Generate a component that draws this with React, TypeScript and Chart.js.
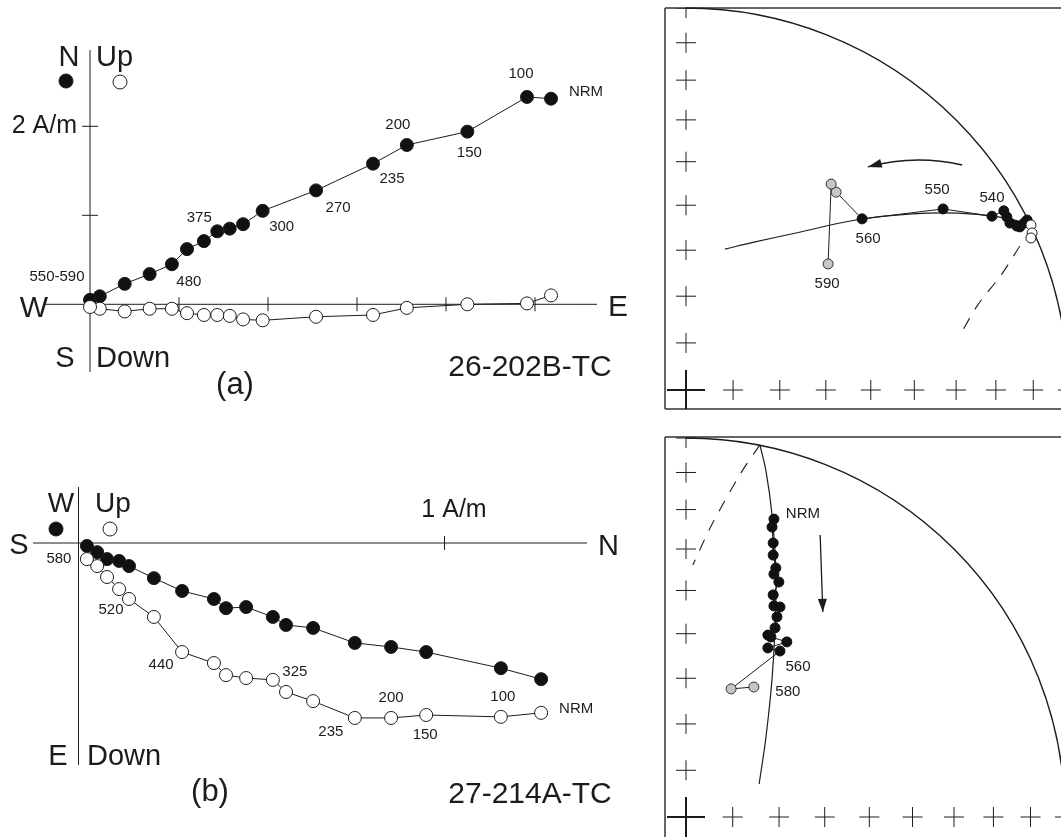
import React, { useEffect, useRef } from 'react';
import { Chart, registerables } from 'chart.js';

Chart.register(...registerables);

const FONT = '"Liberation Sans", Arial, Helvetica, sans-serif';
const INK = '#1c1c1c';

// ===== (a) 26-202B-TC : orthogonal demagnetization diagram (A/m), NRM first =====
const aEast = [5.18, 4.91, 4.24, 3.56, 3.18, 2.54, 1.94, 1.72, 1.57, 1.43, 1.28, 1.09, 0.92, 0.67, 0.39, 0.11, 0.0];
const aNorth = [2.31, 2.33, 1.94, 1.79, 1.58, 1.28, 1.05, 0.9, 0.85, 0.82, 0.71, 0.62, 0.45, 0.34, 0.23, 0.09, 0.05];
const aUp = [0.1, 0.01, 0.0, -0.04, -0.12, -0.14, -0.18, -0.17, -0.13, -0.12, -0.12, -0.1, -0.05, -0.05, -0.08, -0.05, -0.03];
const aTicksEast = [1, 2, 3, 4, 5];
const aTicksNorth = [1, 2];
const aStepLabels = ['NRM', '100', '150', '200', '235', '270', '300', '', '', '375', '', '', '480', '', '', '', '550-590'];

// ===== (b) 27-214A-TC : orthogonal demagnetization diagram (A/m), NRM first =====
const bNorth = [1.264, 1.154, 0.95, 0.854, 0.755, 0.641, 0.567, 0.531, 0.458, 0.403, 0.37, 0.283, 0.206, 0.138, 0.111, 0.078, 0.051, 0.023];
const bWest = [-0.372, -0.342, -0.298, -0.284, -0.273, -0.232, -0.224, -0.202, -0.175, -0.178, -0.153, -0.131, -0.096, -0.063, -0.049, -0.044, -0.025, -0.008];
const bUp = [-0.464, -0.475, -0.47, -0.478, -0.478, -0.432, -0.407, -0.374, -0.369, -0.361, -0.328, -0.298, -0.202, -0.153, -0.126, -0.093, -0.063, -0.044];
const bTicksNorth = [1];
const bTicksWest: number[] = [];
const bStepLabels = ['NRM', '100', '150', '200', '235', '', '', '325', '', '', '', '440', '', '520', '', '', '', '580'];

// ===== equal-area net, (a) 26-202B-TC (units of net radius, east / north) =====
const sAUpperE = [0.903, 0.906, 0.903];
const sAUpperN = [0.432, 0.411, 0.398];
const sALowerE = [0.893, 0.885, 0.874, 0.866, 0.848, 0.84, 0.832, 0.801, 0.673, 0.461];
const sALowerN = [0.445, 0.437, 0.427, 0.429, 0.437, 0.453, 0.469, 0.455, 0.474, 0.448];
const sALowerLabels = ['', '', '', '', '', '', '', '540', '550', '560'];
const sAGreyE = [0.393, 0.38, 0.372];
const sAGreyN = [0.518, 0.539, 0.33];
const sAGreyLabels = ['', '', '590'];
const sAGcE = [0.102, 0.178, 0.288, 0.445, 0.592, 0.712, 0.817, 0.901];
const sAGcN = [0.369, 0.387, 0.411, 0.445, 0.461, 0.463, 0.453, 0.435];
const sAGcUpE = [0.874, 0.825, 0.764, 0.723];
const sAGcUpN = [0.377, 0.301, 0.223, 0.154];

// ===== equal-area net, (b) 27-214A-TC =====
const sBUpperE: number[] = [];
const sBUpperN: number[] = [];
const sBLowerE = [0.232, 0.227, 0.23, 0.23, 0.237, 0.232, 0.245, 0.23, 0.232, 0.248, 0.24, 0.235, 0.216, 0.224, 0.266, 0.216, 0.248];
const sBLowerN = [0.786, 0.765, 0.723, 0.691, 0.657, 0.641, 0.62, 0.586, 0.557, 0.554, 0.528, 0.499, 0.48, 0.475, 0.462, 0.446, 0.438];
const sBLowerLabels = ['NRM', '', '', '', '', '', '', '', '', '', '', '', '', '', '', '', '560'];
const sBGreyE = [0.119, 0.179];
const sBGreyN = [0.338, 0.343];
const sBGreyLabels = ['', '580'];
const sBGcE = [0.195, 0.211, 0.227, 0.237, 0.235, 0.227, 0.211, 0.193];
const sBGcN = [0.982, 0.913, 0.797, 0.652, 0.504, 0.364, 0.211, 0.087];
const sBGcUpE = [0.195, 0.145, 0.069, 0.018];
const sBGcUpN = [0.982, 0.908, 0.773, 0.665];

// net graticule: inclination ticks every 10 degrees
const netInclinations = [80, 70, 60, 50, 40, 30, 20, 10, 0];

// ---------------- layout ----------------
type Box = { left: number; top: number; w: number; h: number };
type Txt = { t: string; x: number; y: number; size: number; align?: CanvasTextAlign };

const aLabelOffsets: Record<number, [number, number]> = {
  0: [35, -7], 1: [-6, -23], 2: [2, 21], 3: [-9, -20], 4: [19, 15], 5: [22, 17], 6: [19, 16], 9: [-18, -13], 12: [17, 18], 16: [-33, -23],
};
const bLabelOffsets: Record<number, [number, number]> = {
  0: [35, -4], 1: [2, -20], 2: [-1, 20], 3: [0, -20], 4: [-24, 14], 7: [22, -8], 11: [-21, 13], 13: [-18, 11], 17: [-28, 0],
};
const sALowerOffsets: Record<number, [number, number]> = { 7: [0, -18], 8: [-6, -19], 9: [6, 20] };
const sAGreyOffsets: Record<number, [number, number]> = { 2: [-1, 20] };
const sBLowerOffsets: Record<number, [number, number]> = { 0: [29, -5], 16: [18, 16] };
const sBGreyOffsets: Record<number, [number, number]> = { 1: [34, 5] };

function scalesFor(box: Box, ox: number, oy: number, unit: number) {
  return {
    x: { type: 'linear', display: false, min: (box.left - ox) / unit, max: (box.left + box.w - ox) / unit },
    y: { type: 'linear', display: false, min: (oy - box.top - box.h) / unit, max: (oy - box.top) / unit },
  };
}

function baseOptions(scales: any) {
  return {
    animation: false,
    responsive: false,
    devicePixelRatio: 1,
    events: [],
    layout: { padding: 0, autoPadding: false },
    plugins: { legend: { display: false }, tooltip: { enabled: false }, title: { display: false } },
    scales,
  };
}

function drawText(ctx: CanvasRenderingContext2D, t: string, x: number, y: number, size: number, align: CanvasTextAlign = 'center', baseline: CanvasTextBaseline = 'alphabetic') {
  ctx.font = `${size}px ${FONT}`;
  ctx.fillStyle = INK;
  ctx.textAlign = align;
  ctx.textBaseline = baseline;
  ctx.fillText(t, x, y);
}

function seg(ctx: CanvasRenderingContext2D, x0: number, y0: number, x1: number, y1: number) {
  ctx.beginPath();
  ctx.moveTo(x0, y0);
  ctx.lineTo(x1, y1);
  ctx.stroke();
}

// ---------------- Zijderveld panel ----------------
type ZijSpec = {
  box: Box; ox: number; oy: number; unit: number;
  horiz: number[]; vFilled: number[]; vOpen: number[];
  hTicks: number[]; vTicks: number[];
  hAxis: [number, number]; vAxis: [number, number];
  texts: Txt[]; legFilled: [number, number]; legOpen: [number, number];
  steps: string[]; stepOn: 'filled' | 'open'; offsets: Record<number, [number, number]>;
};

function zijConfig(s: ZijSpec) {
  const filled = s.horiz.map((h, i) => ({ x: h, y: s.vFilled[i] }));
  const open = s.horiz.map((h, i) => ({ x: h, y: s.vOpen[i] }));
  const plugin = {
    id: 'zij',
    beforeDatasetsDraw(chart: any) {
      const ctx: CanvasRenderingContext2D = chart.ctx;
      const xs = chart.scales.x, ys = chart.scales.y;
      const px = xs.getPixelForValue(0), py = ys.getPixelForValue(0);
      ctx.save();
      ctx.strokeStyle = INK;
      ctx.lineWidth = 1;
      seg(ctx, s.hAxis[0] - s.box.left, py, s.hAxis[1] - s.box.left, py);
      seg(ctx, px, s.vAxis[0] - s.box.top, px, s.vAxis[1] - s.box.top);
      s.hTicks.forEach((v) => { const x = xs.getPixelForValue(v); seg(ctx, x, py - 7, x, py + 7); });
      s.vTicks.forEach((v) => { const y = ys.getPixelForValue(v); seg(ctx, px - 8, y, px + 8, y); });
      ctx.restore();
    },
    afterDatasetsDraw(chart: any) {
      const ctx: CanvasRenderingContext2D = chart.ctx;
      const xs = chart.scales.x, ys = chart.scales.y;
      ctx.save();
      s.texts.forEach((t) => drawText(ctx, t.t, t.x - s.box.left, t.y - s.box.top, t.size, t.align || 'center'));
      // legend keys
      ctx.lineWidth = 1;
      ctx.strokeStyle = INK;
      ctx.beginPath(); ctx.arc(s.legFilled[0] - s.box.left, s.legFilled[1] - s.box.top, 7, 0, Math.PI * 2);
      ctx.fillStyle = '#111'; ctx.fill(); ctx.stroke();
      ctx.beginPath(); ctx.arc(s.legOpen[0] - s.box.left, s.legOpen[1] - s.box.top, 7, 0, Math.PI * 2);
      ctx.fillStyle = '#fff'; ctx.fill(); ctx.stroke();
      // step labels
      const vv = s.stepOn === 'filled' ? s.vFilled : s.vOpen;
      s.steps.forEach((t, i) => {
        if (!t) return;
        const off = s.offsets[i] || [0, 0];
        drawText(ctx, t, xs.getPixelForValue(s.horiz[i]) + off[0], ys.getPixelForValue(vv[i]) + off[1], 15, 'center', 'middle');
      });
      ctx.restore();
    },
  };
  const common = { showLine: true, borderColor: INK, borderWidth: 1, pointRadius: 6.5, pointBorderColor: INK, pointBorderWidth: 1, clip: false as const };
  return {
    type: 'scatter',
    data: {
      datasets: [
        { ...common, label: 'vertical projection', data: open, pointBackgroundColor: '#ffffff', order: 0 },
        { ...common, label: 'horizontal projection', data: filled, pointBackgroundColor: '#111111', order: 1 },
      ],
    },
    options: baseOptions(scalesFor(s.box, s.ox, s.oy, s.unit)),
    plugins: [plugin],
  };
}

// ---------------- stereonet panel ----------------
type StereoSpec = {
  box: Box; ox: number; oy: number; R: number;
  frame: { left: number; top: number; bottom: number | null };
  upE: number[]; upN: number[];
  loE: number[]; loN: number[]; loLabels: string[]; loOff: Record<number, [number, number]>;
  grE: number[]; grN: number[]; grLabels: string[]; grOff: Record<number, [number, number]>;
  gcE: number[]; gcN: number[]; gcUpE: number[]; gcUpN: number[];
  arrow: [number, number][];
};

function arrowHead(ctx: CanvasRenderingContext2D, x: number, y: number, ang: number, len: number, half: number) {
  ctx.beginPath();
  ctx.moveTo(x, y);
  ctx.lineTo(x - len * Math.cos(ang) + half * Math.sin(ang), y - len * Math.sin(ang) - half * Math.cos(ang));
  ctx.lineTo(x - len * Math.cos(ang) - half * Math.sin(ang), y - len * Math.sin(ang) + half * Math.cos(ang));
  ctx.closePath();
  ctx.fill();
}

function stereoConfig(s: StereoSpec) {
  const pts = (e: number[], n: number[]) => e.map((x, i) => ({ x, y: n[i] }));
  const last = { x: s.loE[s.loE.length - 1], y: s.loN[s.loN.length - 1] };
  const plugin = {
    id: 'stereo',
    beforeDatasetsDraw(chart: any) {
      const ctx: CanvasRenderingContext2D = chart.ctx;
      const xs = chart.scales.x, ys = chart.scales.y;
      const cx = xs.getPixelForValue(0), cy = ys.getPixelForValue(0);
      const rad = xs.getPixelForValue(1) - cx;
      const W = chart.width;
      ctx.save();
      ctx.strokeStyle = '#333';
      ctx.lineWidth = 1.5;
      const fl = s.frame.left - s.box.left, ft = s.frame.top - s.box.top;
      const fb = s.frame.bottom === null ? chart.height + 5 : s.frame.bottom - s.box.top;
      seg(ctx, fl, ft, fl, fb);
      seg(ctx, fl, ft, W + 5, ft);
      if (s.frame.bottom !== null) seg(ctx, fl, fb, W + 5, fb);
      // primitive
      ctx.strokeStyle = INK;
      ctx.lineWidth = 1.4;
      ctx.beginPath();
      ctx.arc(cx, cy, rad, -Math.PI / 2, 0);
      ctx.stroke();
      // graticule crosses, clipped to the frame
      ctx.save();
      ctx.beginPath();
      ctx.rect(fl, ft, W - fl + 5, fb - ft);
      ctx.clip();
      ctx.lineWidth = 1;
      netInclinations.forEach((inc) => {
        const r = Math.SQRT2 * Math.sin(((90 - inc) / 2) * Math.PI / 180);
        const ax = xs.getPixelForValue(r), ay = cy;
        const bx = cx, by = ys.getPixelForValue(r);
        seg(ctx, ax - 10, ay, ax + 10, ay); seg(ctx, ax, ay - 10, ax, ay + 10);
        seg(ctx, bx - 10, by, bx + 10, by); seg(ctx, bx, by - 10, bx, by + 10);
      });
      ctx.lineWidth = 2;
      seg(ctx, cx - 19, cy, cx + 19, cy);
      seg(ctx, cx, cy - 20, cx, cy + 20);
      ctx.restore();
      ctx.restore();
    },
    afterDatasetsDraw(chart: any) {
      const ctx: CanvasRenderingContext2D = chart.ctx;
      const xs = chart.scales.x, ys = chart.scales.y;
      const P = (p: [number, number]) => [xs.getPixelForValue(p[0]), ys.getPixelForValue(p[1])];
      ctx.save();
      ctx.strokeStyle = INK;
      ctx.fillStyle = INK;
      ctx.lineWidth = 1.3;
      if (s.arrow.length === 3) {
        const [a, m, b] = s.arrow.map(P);
        const c = [2 * m[0] - (a[0] + b[0]) / 2, 2 * m[1] - (a[1] + b[1]) / 2];
        ctx.beginPath(); ctx.moveTo(a[0], a[1]); ctx.quadraticCurveTo(c[0], c[1], b[0], b[1]); ctx.stroke();
        arrowHead(ctx, b[0], b[1], Math.atan2(b[1] - c[1], b[0] - c[0]), 14, 4.5);
      } else {
        const [a, b] = s.arrow.map(P);
        seg(ctx, a[0], a[1], b[0], b[1]);
        arrowHead(ctx, b[0], b[1], Math.atan2(b[1] - a[1], b[0] - a[0]), 13, 4.5);
      }
      const lab = (e: number[], n: number[], names: string[], off: Record<number, [number, number]>) => {
        names.forEach((t, i) => {
          if (!t) return;
          const o = off[i] || [0, 0];
          drawText(ctx, t, xs.getPixelForValue(e[i]) + o[0], ys.getPixelForValue(n[i]) + o[1], 15, 'center', 'middle');
        });
      };
      lab(s.loE, s.loN, s.loLabels, s.loOff);
      lab(s.grE, s.grN, s.grLabels, s.grOff);
      ctx.restore();
    },
  };
  return {
    type: 'scatter',
    data: {
      datasets: [
        { label: 'upper hemisphere', data: pts(s.upE, s.upN), showLine: false, pointRadius: 5, pointBackgroundColor: '#fff', pointBorderColor: INK, pointBorderWidth: 1, order: 0, clip: false },
        { label: 'lower hemisphere', data: pts(s.loE, s.loN), showLine: true, borderColor: INK, borderWidth: 1, pointRadius: 5, pointBackgroundColor: '#111', pointBorderColor: '#111', pointBorderWidth: 1, order: 1, clip: false },
        { label: 'unstable', data: [last, ...pts(s.grE, s.grN)], showLine: true, borderColor: INK, borderWidth: 1, pointRadius: [0, ...s.grE.map(() => 5)], pointBackgroundColor: '#c6c6c6', pointBorderColor: '#333', pointBorderWidth: 1, order: 2, clip: false },
        { label: 'great circle', data: pts(s.gcE, s.gcN), showLine: true, borderColor: INK, borderWidth: 1.2, pointRadius: 0, tension: 0.4, order: 3, clip: false },
        { label: 'great circle (upper)', data: pts(s.gcUpE, s.gcUpN), showLine: true, borderColor: INK, borderWidth: 1.1, borderDash: [12, 10], pointRadius: 0, tension: 0.3, order: 3, clip: false },
      ],
    },
    options: baseOptions(scalesFor(s.box, s.ox, s.oy, s.R)),
    plugins: [plugin],
  };
}

// ---------------- specs ----------------
const zijA: ZijSpec = {
  box: { left: 0, top: 0, w: 655, h: 415 }, ox: 90, oy: 304.3, unit: 89,
  horiz: aEast, vFilled: aNorth, vOpen: aUp, hTicks: aTicksEast, vTicks: aTicksNorth,
  hAxis: [45, 597], vAxis: [50, 372],
  texts: [
    { t: 'N', x: 69, y: 66, size: 29 },
    { t: 'Up', x: 96, y: 66, size: 29, align: 'left' },
    { t: '2 A/m', x: 77, y: 133, size: 25, align: 'right' },
    { t: 'W', x: 34, y: 317, size: 30 },
    { t: 'E', x: 608, y: 316, size: 30, align: 'left' },
    { t: 'S', x: 65, y: 367, size: 29 },
    { t: 'Down', x: 96, y: 367, size: 29, align: 'left' },
    { t: '(a)', x: 235, y: 394, size: 31 },
    { t: '26-202B-TC', x: 530, y: 376, size: 30 },
  ],
  legFilled: [66, 81], legOpen: [120, 82],
  steps: aStepLabels, stepOn: 'filled', offsets: aLabelOffsets,
};

const zijB: ZijSpec = {
  box: { left: 0, top: 415, w: 655, h: 422 }, ox: 78.5, oy: 543, unit: 366,
  horiz: bNorth, vFilled: bWest, vOpen: bUp, hTicks: bTicksNorth, vTicks: bTicksWest,
  hAxis: [33, 587], vAxis: [487, 765],
  texts: [
    { t: 'W', x: 61, y: 512, size: 28 },
    { t: 'Up', x: 95, y: 512, size: 28, align: 'left' },
    { t: 'S', x: 19, y: 554, size: 29 },
    { t: 'N', x: 598, y: 555, size: 29, align: 'left' },
    { t: '1 A/m', x: 454, y: 517, size: 25 },
    { t: 'E', x: 58, y: 765, size: 29 },
    { t: 'Down', x: 87, y: 765, size: 29, align: 'left' },
    { t: '(b)', x: 210, y: 801, size: 31 },
    { t: '27-214A-TC', x: 530, y: 803, size: 30 },
  ],
  legFilled: [56, 529], legOpen: [110, 529],
  steps: bStepLabels, stepOn: 'open', offsets: bLabelOffsets,
};

const stA: StereoSpec = {
  box: { left: 655, top: 0, w: 406, h: 425 }, ox: 686, oy: 390, R: 382,
  frame: { left: 665, top: 8, bottom: 409 },
  upE: sAUpperE, upN: sAUpperN,
  loE: sALowerE, loN: sALowerN, loLabels: sALowerLabels, loOff: sALowerOffsets,
  grE: sAGreyE, grN: sAGreyN, grLabels: sAGreyLabels, grOff: sAGreyOffsets,
  gcE: sAGcE, gcN: sAGcN, gcUpE: sAGcUpE, gcUpN: sAGcUpN,
  arrow: [[0.723, 0.589], [0.599, 0.602], [0.476, 0.584]],
};

const stB: StereoSpec = {
  box: { left: 655, top: 425, w: 406, h: 412 }, ox: 686, oy: 817, R: 379,
  frame: { left: 665, top: 437, bottom: null },
  upE: sBUpperE, upN: sBUpperN,
  loE: sBLowerE, loN: sBLowerN, loLabels: sBLowerLabels, loOff: sBLowerOffsets,
  grE: sBGreyE, grN: sBGreyN, grLabels: sBGreyLabels, grOff: sBGreyOffsets,
  gcE: sBGcE, gcN: sBGcN, gcUpE: sBGcUpE, gcUpN: sBGcUpN,
  arrow: [[0.354, 0.744], [0.361, 0.541]],
};

function ChartCanvas({ box, make }: { box: Box; make: () => any }) {
  const ref = useRef<HTMLCanvasElement | null>(null);
  useEffect(() => {
    if (!ref.current) return;
    const chart = new Chart(ref.current, make());
    return () => chart.destroy();
  }, []);
  return (
    <canvas
      ref={ref}
      width={box.w}
      height={box.h}
      style={{ position: 'absolute', left: box.left, top: box.top, width: box.w, height: box.h, display: 'block' }}
    />
  );
}

export default function App() {
  return (
    <div style={{ position: 'fixed', left: 0, top: 0, width: 1061, height: 837, background: '#fff', overflow: 'hidden' }}>
      <ChartCanvas box={zijA.box} make={() => zijConfig(zijA)} />
      <ChartCanvas box={zijB.box} make={() => zijConfig(zijB)} />
      <ChartCanvas box={stA.box} make={() => stereoConfig(stA)} />
      <ChartCanvas box={stB.box} make={() => stereoConfig(stB)} />
    </div>
  );
}
